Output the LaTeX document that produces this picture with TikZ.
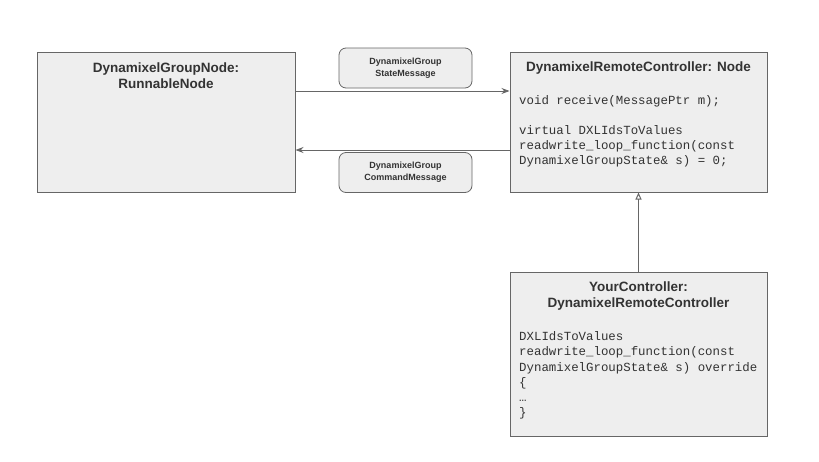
\documentclass[tikz,border=0pt]{standalone}
\usepackage{fontspec}
\setmainfont{Liberation Sans}
\setmonofont{Liberation Mono}
\usetikzlibrary{arrows.meta}
\definecolor{boxfill}{HTML}{EEEEEE}
\definecolor{boxline}{HTML}{666666}
\definecolor{txt}{HTML}{333333}
\tikzset{
  classbox/.style={draw=boxline, fill=boxfill, line width=1pt, inner sep=0pt},
  msgbox/.style={draw=boxline, fill=boxfill, line width=0.8pt, rounded corners=7pt,
    minimum width=133pt, minimum height=40pt, align=center, text=txt,
    font=\fontsize{9}{12}\selectfont\bfseries},
  title/.style={anchor=north, align=center, text=txt, inner sep=0pt,
    font=\fontsize{13.5}{16}\selectfont\bfseries},
  code/.style={anchor=north west, align=left, text=txt, inner sep=0pt,
    font=\fontsize{12.4}{15.2}\selectfont\ttfamily},
  msg/.style={draw=boxline, line width=0.9pt, -{Stealth[length=8pt,width=6pt]}}
}
\begin{document}
\begin{tikzpicture}[x=1pt, y=-1pt]
\useasboundingbox (0,0) rectangle (819,461);
\node[classbox, minimum width=258pt, minimum height=140pt] (groupnode) at (166,122) {};
\node[classbox, minimum width=257pt, minimum height=140pt] (remote) at (638.5,122) {};
\node[classbox, minimum width=257pt, minimum height=164pt] (yours) at (638.5,354) {};

\node[title] (groupname) at (166,63) {DynamixelGroupNode:\\RunnableNode};
\node[title] (remotename) at (638.5,62) {DynamixelRemoteController: Node};
\node[code] (remotecode) at (519,95) {void receive(MessagePtr m);\\[15.2pt]virtual DXLIdsToValues\\readwrite\_loop\_function(const\\DynamixelGroupState\& s) = 0;};
\node[title] (yourname) at (638.5,282) {YourController:\\DynamixelRemoteController};
\node[code] (yourcode) at (519,331.5) {DXLIdsToValues\\readwrite\_loop\_function(const\\DynamixelGroupState\& s) override\\\{\\\ldots\\\}};

\node[msgbox] (statemsg) at (405.5,68) {DynamixelGroup\\StateMessage};
\node[msgbox] (cmdmsg) at (405.5,172.5) {DynamixelGroup\\CommandMessage};

\coordinate (s1) at (groupnode.east |- 0,91);
\coordinate (s2) at (remote.west |- 0,150);
\draw[msg] (s1) -- (s1 -| remote.west);
\draw[msg] (s2) -- (s2 -| groupnode.east);
\draw[draw=boxline, line width=1.8pt, -{Triangle[open, length=7pt, width=6pt, line width=1pt]}] (yours.north) -- (remote.south);
\end{tikzpicture}
\end{document}
